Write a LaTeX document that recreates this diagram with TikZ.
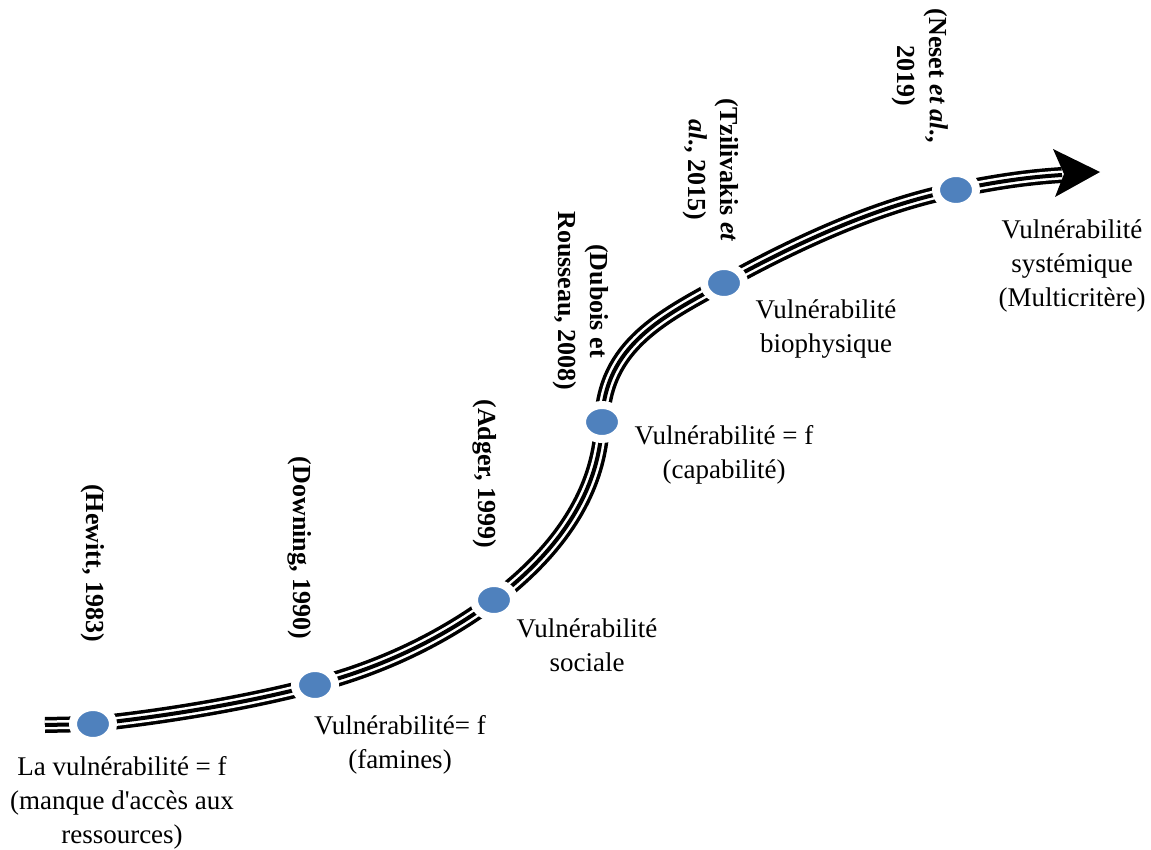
\documentclass[tikz,border=0pt]{standalone}
\usepackage{fontspec}
\setmainfont{Liberation Serif}
\usetikzlibrary{shapes.geometric}
\definecolor{dotblue}{RGB}{79,129,189}
\begin{document}
\begin{tikzpicture}[x=1pt,y=-1pt,
  dot/.style={ellipse, fill=dotblue, draw=white, line width=8pt, minimum width=40pt, minimum height=34pt, inner sep=0pt},
  lab/.style={align=center, font=\fontsize{27}{34}\selectfont, inner sep=0pt},
  refl/.style={align=center, font=\fontsize{26}{32}\selectfont\bfseries, rotate=-90, inner sep=0pt},
  railouter/.style={line width=16pt, black},
  railgap/.style={line width=9pt, white},
  railinner/.style={line width=4pt, black}]
\useasboundingbox (0,0) rectangle (1151,850);
% positions
\coordinate (s) at (45,725);
\coordinate (e) at (1062,175);
\coordinate (tip) at (1100,172);
\coordinate (c1p) at (93,724);
\coordinate (c2p) at (315,685);
\coordinate (c3p) at (494,600);
\coordinate (c4p) at (602,422);
\coordinate (c5p) at (724,283);
\coordinate (c6p) at (956,190);
% rail
\foreach \st in {railouter,railgap,railinner}{
  \draw[\st] (s) -- (c1p)
    .. controls (170,716) and (250,702) .. (c2p)
    .. controls (380,668) and (440,640) .. (c3p)
    .. controls (560,550) and (600,490) .. (c4p)
    .. controls (604,345) and (664,316) .. (c5p)
    .. controls (800,241) and (880,205) .. (c6p)
    .. controls (1000,181) and (1030,177) .. (e);
}
% arrow head
\fill[black] (tip) -- (1053,149) -- (1064,174) -- (1055,197) -- cycle;
% dots
\node[dot] (c1) at (c1p) {};
\node[dot] (c2) at (c2p) {};
\node[dot] (c3) at (c3p) {};
\node[dot] (c4) at (c4p) {};
\node[dot] (c5) at (c5p) {};
\node[dot] (c6) at (c6p) {};
% labels
\node[lab] (l1) at (122,803) {La vulnérabilité = f\\(manque d\textquotesingle accès aux\\ressources)};
\node[lab] (l2) at (400,745) {Vulnérabilité= f\\(famines)};
\node[lab] (l3) at (587,645) {Vulnérabilité\\sociale};
\node[lab] (l4) at (724,455) {Vulnérabilité = f\\(capabilité)};
\node[lab] (l5) at (826,329) {Vulnérabilité\\biophysique};
\node[lab] (l6) at (1072,266) {Vulnérabilité\\systémique\\(Multicritère)};
% references
\node[refl] (r1) at (93,563) {(Hewitt, 1983)};
\node[refl] (r2) at (300,548) {(Downing, 1990)};
\node[refl] (r3) at (485,474) {(Adger, 1999)};
\node[refl] (r4) at (581,301) {(Dubois et\\Rousseau, 2008)};
\node[refl] (r5) at (711,170) {(Tzilivakis \textit{et}\\\textit{al.}, 2015)};
\node[refl] (r6) at (920,76) {(Neset \textit{et al.},\\2019)};
\end{tikzpicture}
\end{document}
